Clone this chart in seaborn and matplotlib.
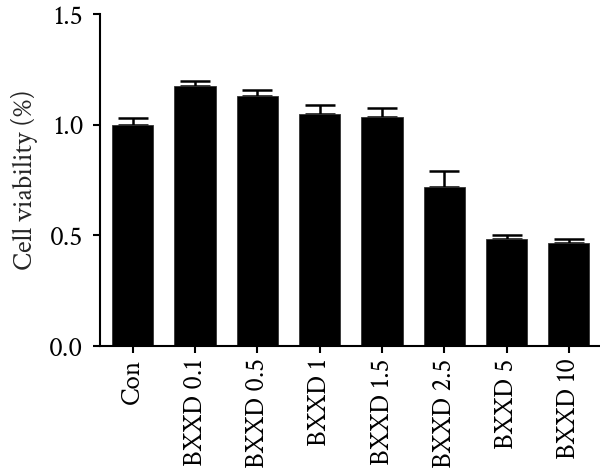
import matplotlib
matplotlib.use("Agg")
import matplotlib.pyplot as plt
import seaborn as sns
import numpy as np
import pandas as pd

categories = ["Con", "BXXD 0.1", "BXXD 0.5", "BXXD 1", "BXXD 1.5", "BXXD 2.5", "BXXD 5", "BXXD 10"]
viability = [1.00, 1.173, 1.131, 1.050, 1.036, 0.720, 0.485, 0.465]
errors = [0.028, 0.024, 0.026, 0.037, 0.039, 0.071, 0.017, 0.017]
yticks = [0.0, 0.5, 1.0, 1.5]

sns.set_theme(style="ticks")
plt.rcParams["font.family"] = ["Crimson Text", "Liberation Serif", "DejaVu Serif"]

df = pd.DataFrame({"group": categories, "value": viability})

fig = plt.figure(figsize=(6, 4.75), dpi=100)
ax = fig.add_axes([0.1667, 0.2716, 0.8333, 0.6989])

x = np.arange(len(categories))
ax.errorbar(x, viability, yerr=[np.zeros(len(errors)), errors], fmt="none",
            ecolor="black", elinewidth=1.8, capsize=10.5, capthick=1.8, zorder=1)
sns.barplot(data=df, x="group", y="value", color="black", width=0.66,
            edgecolor="#333333", linewidth=0.6, errorbar=None, ax=ax, zorder=2)
for p in ax.patches:
    p.set_facecolor("black")

ax.set_xlim(-0.525, 7.5)
ax.set_ylim(0, 1.5)
ax.set_yticks(yticks)
ax.set_yticklabels([f"{v:.1f}" for v in yticks], fontsize=20)
ax.set_xticks(x)
ax.set_xticklabels(categories, rotation=90, fontsize=19.5)
ax.set_xlabel("")
ax.set_ylabel("Cell viability (%)", fontsize=20, labelpad=8)

for s in ["top", "right"]:
    ax.spines[s].set_visible(False)
for s in ["left", "bottom"]:
    ax.spines[s].set_linewidth(1.5)
    ax.spines[s].set_color("black")
ax.tick_params(axis="both", direction="out", length=5, width=1.5, color="black",
               labelcolor="black")
ax.tick_params(axis="y", pad=7)
ax.tick_params(axis="x", pad=4)

fig.savefig("out.png", dpi=100)
